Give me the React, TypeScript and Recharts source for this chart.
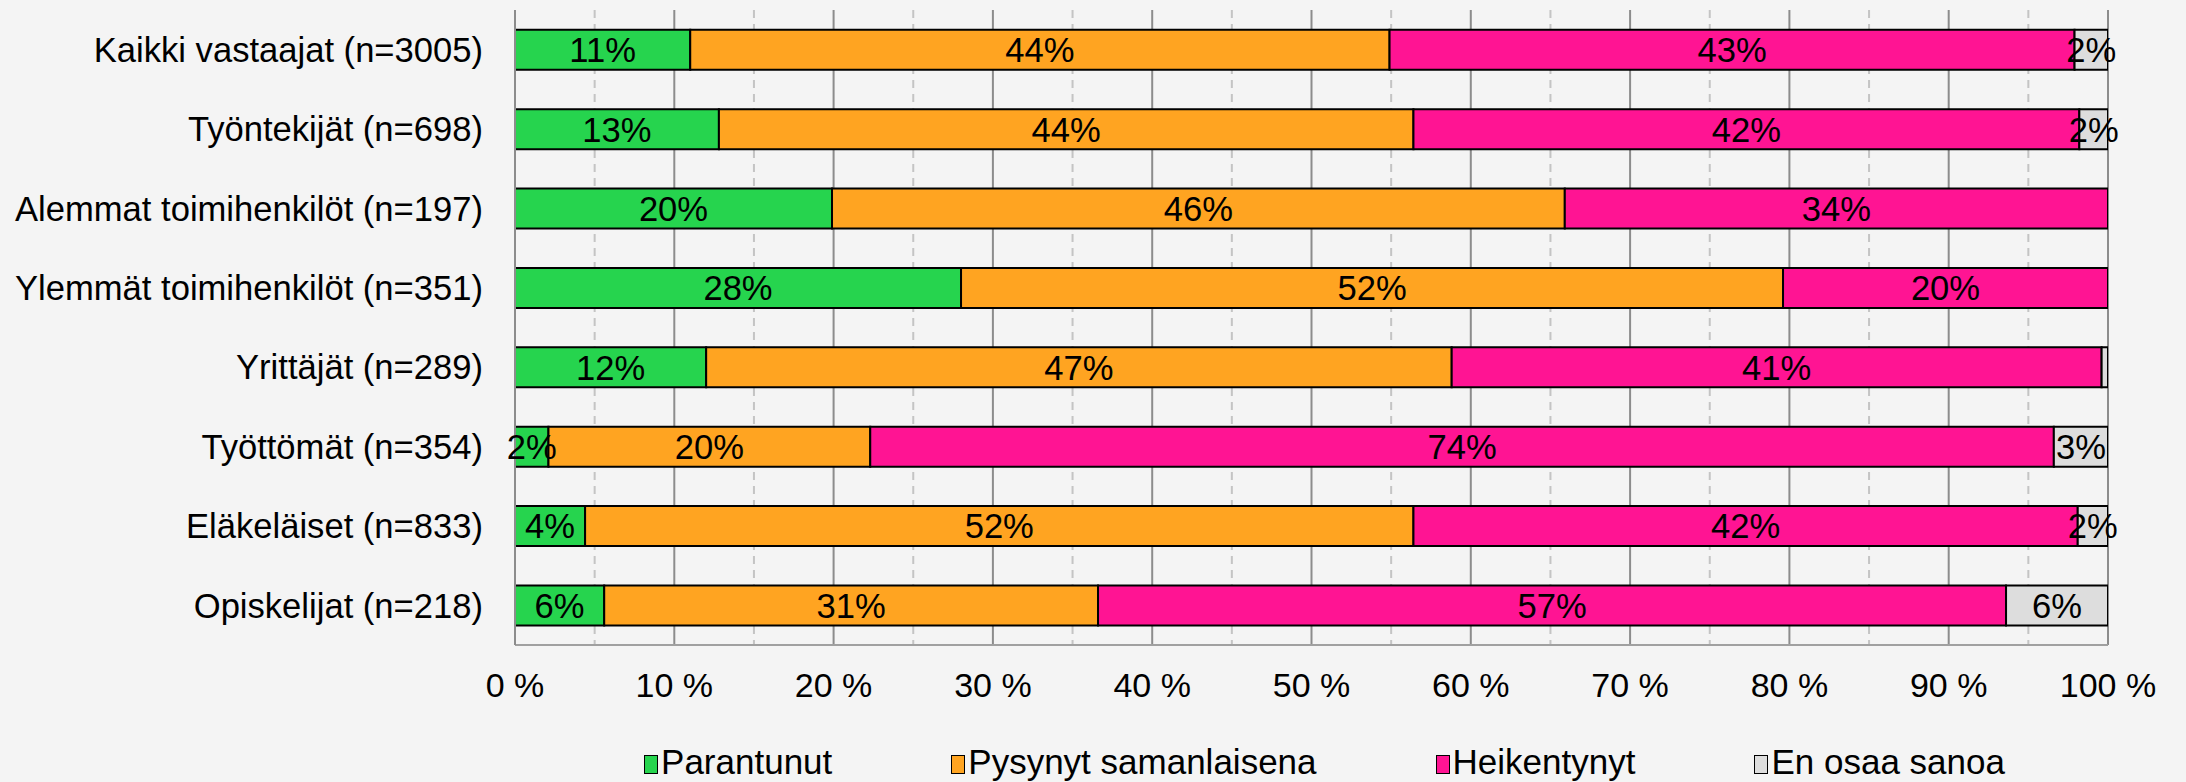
import React from "react";
import {
  BarChart,
  Bar,
  XAxis,
  YAxis,
  CartesianGrid,
  Legend,
  LabelList,
} from "recharts";

const categories = [
  "Kaikki vastaajat (n=3005)",
  "Työntekijät (n=698)",
  "Alemmat toimihenkilöt (n=197)",
  "Ylemmät toimihenkilöt (n=351)",
  "Yrittäjät (n=289)",
  "Työttömät (n=354)",
  "Eläkeläiset (n=833)",
  "Opiskelijat (n=218)",
];
const parantunut = [11.0, 12.8, 19.9, 28.0, 12.0, 2.1, 4.4, 5.6];
const pysynyt = [43.9, 43.6, 46.0, 51.6, 46.8, 20.2, 52.0, 31.0];
const heikentynyt = [43.0, 41.8, 34.1, 20.4, 40.8, 74.3, 41.7, 57.0];
const eos = [2.1, 1.8, 0, 0, 0.4, 3.4, 1.9, 6.4];

const xTicks = [0, 10, 20, 30, 40, 50, 60, 70, 80, 90, 100];
const halfTicks = [5, 15, 25, 35, 45, 55, 65, 75, 85, 95];

const seriesNames = ["Parantunut", "Pysynyt samanlaisena", "Heikentynyt", "En osaa sanoa"];
const seriesKeys = ["p", "s", "h", "e"];
const seriesColors = ["#26D44E", "#FFA421", "#FF1493", "#DDDDDD"];

const data = categories.map((name, i) => ({
  name,
  p: parantunut[i],
  s: pysynyt[i],
  h: heikentynyt[i],
  e: eos[i],
}));

const FONT = "'Liberation Sans', Arial, sans-serif";
const FS = 34.6;
const FS_X = 34;
const FS_LEG = 35;

const fmt = (v: any) => {
  const n = Number(v);
  return n >= 0.5 ? `${Math.round(n)}%` : "";
};

const renderLegend = () => (
  <div
    style={{
      display: "flex",
      justifyContent: "center",
      alignItems: "center",
      gap: 119,
      fontFamily: FONT,
      fontSize: FS_LEG,
      lineHeight: "40px",
      color: "#000",
    }}
  >
    {seriesNames.map((n, i) => (
      <div key={n} style={{ display: "flex", alignItems: "center" }}>
        <span
          style={{
            display: "inline-block",
            width: 12,
            height: 17,
            background: seriesColors[i],
            border: "1.5px solid #000",
            marginRight: 3,
            marginTop: 4,
          }}
        />
        <span>{n}</span>
      </div>
    ))}
  </div>
);

export default function App() {
  return (
    <div
      style={{
        position: "absolute",
        left: 0,
        top: 0,
        width: 2186,
        height: 782,
        background: "#F4F4F4",
        fontFamily: FONT,
      }}
    >
      <BarChart
        width={2186}
        height={782}
        data={data}
        layout="vertical"
        margin={{ top: 10, right: 78, left: 0, bottom: 77 }}
        barCategoryGap="25%"
      >
        <CartesianGrid
          horizontal={false}
          verticalValues={halfTicks}
          stroke="#C4C4C4"
          strokeWidth={2}
          strokeDasharray="8 6"
        />
        <CartesianGrid horizontal={false} stroke="#8C8C8C" strokeWidth={2} />
        <XAxis
          type="number"
          domain={[0, 100]}
          ticks={xTicks}
          tickFormatter={(v: number) => `${v} %`}
          tickLine={false}
          tickSize={0}
          tickMargin={28}
          height={60}
          axisLine={{ stroke: "#A0A0A0", strokeWidth: 2 }}
          tick={{ fill: "#000", fontSize: FS_X, fontFamily: FONT }}
          interval={0}
          allowDataOverflow
        />
        <XAxis
          xAxisId="top"
          orientation="top"
          type="number"
          domain={[0, 100]}
          height={0}
          tick={false}
          tickLine={false}
          axisLine={{ stroke: "#C8C8C8", strokeWidth: 2 }}
        />
        <YAxis
          type="category"
          dataKey="name"
          width={515}
          tickLine={false}
          tickSize={0}
          tickMargin={32}
          axisLine={{ stroke: "#8C8C8C", strokeWidth: 2 }}
          tick={{ fill: "#000", fontSize: FS, fontFamily: FONT }}
          interval={0}
        />
        {seriesKeys.map((k, i) => (
          <Bar
            key={k}
            dataKey={k}
            name={seriesNames[i]}
            stackId="a"
            fill={seriesColors[i]}
            stroke="#000"
            strokeWidth={2}
            isAnimationActive={false}
          >
            <LabelList
              dataKey={k}
              position="center"
              formatter={fmt}
              fill="#000"
              fontSize={FS}
              fontFamily={FONT}
            />
          </Bar>
        ))}
        <Legend
          layout="horizontal"
          verticalAlign="middle"
          align="center"
          content={renderLegend}
          wrapperStyle={{ top: 742, left: 528, width: 1593 }}
        />
      </BarChart>
    </div>
  );
}
